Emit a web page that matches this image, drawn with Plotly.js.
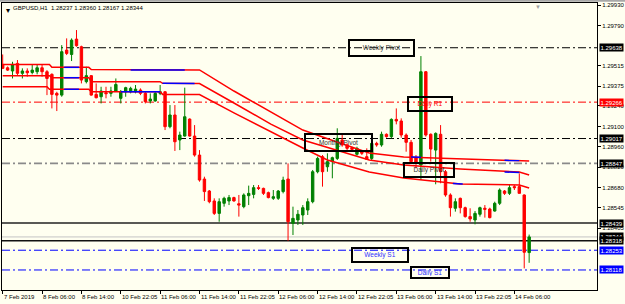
<!DOCTYPE html>
<html><head><meta charset="utf-8">
<script src="https://cdn.plot.ly/plotly-3.0.1.min.js"></script>
<style>html,body{margin:0;padding:0;background:#fffff0;}#chart{width:625px;height:304px;}</style>
</head><body><div id="chart"></div>
<script>
const symbol = 'GBPUSD', timeframe = 'H1';
const open = [1.29524,1.29501,1.29479,1.29531,1.29463,1.29479,1.29469,1.29474,1.29501,1.29474,
1.29456,1.29326,1.29314,1.29622,1.29592,1.29697,1.29645,1.29406,1.29447,1.29319,
1.29303,1.29330,1.29326,1.29342,1.29292,1.29337,1.29337,1.29337,1.29349,1.29326,
1.29274,1.29274,1.29326,1.29337,1.29098,1.29178,1.29007,1.29034,1.29150,1.29034,
1.28904,1.28740,1.28658,1.28590,1.28505,1.28574,1.28590,1.28613,1.28571,1.28551,
1.28626,1.28635,1.28681,1.28676,1.28647,1.28608,1.28608,1.28654,1.28740,1.28437,
1.28460,1.28494,1.28528,1.28585,1.28790,1.28893,1.28824,1.28859,1.28881,1.29007,
1.28973,1.28954,1.28909,1.28927,1.28893,1.28881,1.28984,1.28973,1.29046,1.29030,
1.29148,1.29137,1.29041,1.28991,1.28886,1.28836,1.29474,1.29046,1.28938,1.29046,
1.28790,1.28631,1.28540,1.28608,1.28544,1.28483,1.28460,1.28499,1.28540,1.28535,
1.28521,1.28574,1.28658,1.28642,1.28688,1.28688,1.28631,1.28237];
const high = [1.29592,1.29510,1.29542,1.29554,1.29497,1.29497,1.29520,1.29520,1.29520,1.29485,
1.29463,1.29337,1.29656,1.29702,1.29702,1.29759,1.29652,1.29508,1.29451,1.29394,
1.29371,1.29371,1.29371,1.29428,1.29349,1.29371,1.29371,1.29383,1.29360,1.29337,
1.29326,1.29337,1.29383,1.29342,1.29246,1.29246,1.29064,1.29365,1.29155,1.29109,
1.28938,1.28756,1.28665,1.28608,1.28608,1.28619,1.28631,1.28619,1.28631,1.28642,
1.28695,1.28699,1.28699,1.28681,1.28654,1.28665,1.28665,1.28756,1.28847,1.28551,
1.28528,1.28562,1.28608,1.28802,1.28893,1.28904,1.28916,1.28893,1.29087,1.29041,
1.28984,1.28961,1.28961,1.28938,1.28950,1.28995,1.28995,1.29064,1.29052,1.29155,
1.29223,1.29155,1.29052,1.29007,1.28904,1.29581,1.29479,1.29052,1.29059,1.29109,
1.28802,1.28642,1.28608,1.28613,1.28551,1.28540,1.28521,1.28551,1.28562,1.28544,
1.28585,1.28676,1.28665,1.28699,1.28699,1.28779,1.28635,1.28360];
const low = [1.29492,1.29479,1.29428,1.29451,1.29428,1.29440,1.29456,1.29456,1.29440,1.29314,
1.29223,1.29205,1.29303,1.29588,1.29547,1.29645,1.29394,1.29394,1.29310,1.29292,
1.29257,1.29292,1.29303,1.29337,1.29257,1.29303,1.29326,1.29326,1.29314,1.29257,
1.29257,1.29269,1.29314,1.29075,1.29087,1.28932,1.28938,1.29030,1.29030,1.28893,
1.28722,1.28590,1.28574,1.28494,1.28448,1.28551,1.28562,1.28585,1.28483,1.28540,
1.28562,1.28608,1.28665,1.28631,1.28608,1.28597,1.28597,1.28642,1.28318,1.28357,
1.28426,1.28426,1.28494,1.28574,1.28779,1.28688,1.28790,1.28745,1.28870,1.28961,
1.28938,1.28932,1.28900,1.28904,1.28870,1.28870,1.28961,1.28961,1.29023,1.29018,
1.29114,1.29023,1.28927,1.28847,1.28813,1.28733,1.29030,1.28859,1.28704,1.28711,
1.28619,1.28483,1.28517,1.28505,1.28476,1.28448,1.28430,1.28483,1.28476,1.28471,
1.28517,1.28562,1.28631,1.28631,1.28665,1.28642,1.28129,1.28167];
const close = [1.29497,1.29485,1.29524,1.29463,1.29479,1.29467,1.29485,1.29501,1.29474,1.29428,
1.29319,1.29314,1.29611,1.29599,1.29690,1.29652,1.29417,1.29447,1.29314,1.29296,
1.29342,1.29324,1.29342,1.29387,1.29337,1.29365,1.29360,1.29355,1.29326,1.29269,
1.29287,1.29326,1.29337,1.29098,1.29178,1.28995,1.29041,1.29166,1.29034,1.28904,
1.28733,1.28654,1.28585,1.28505,1.28585,1.28608,1.28613,1.28590,1.28562,1.28631,
1.28642,1.28681,1.28676,1.28642,1.28613,1.28619,1.28658,1.28733,1.28448,1.28471,
1.28499,1.28544,1.28585,1.28790,1.28881,1.28790,1.28859,1.28886,1.29018,1.28973,
1.28950,1.28943,1.28950,1.28916,1.28875,1.28984,1.28973,1.29046,1.29030,1.29148,
1.29137,1.29041,1.28991,1.28859,1.28854,1.29474,1.29041,1.28945,1.29052,1.28790,
1.28631,1.28544,1.28585,1.28544,1.28483,1.28467,1.28505,1.28544,1.28533,1.28476,
1.28574,1.28665,1.28642,1.28681,1.28681,1.28642,1.28239,1.28344];

// envelope lines (bar index, price) read at knots
const maTopX = [0,9.5,10,17.5,18,40,47,54.5,61,68.5,74.5,81.5,93,107];
const maTopY = [1.29523,1.29523,1.29504,1.29504,1.29489,1.29486,1.29342,1.29198,1.29075,1.28986,1.28918,1.28891,1.28877,1.28863];
const maMidX = [0,9.5,10,17.5,18,32,32.5,40,47,54.5,61,74.5,81.5,93,105,107];
const maMidY = [1.29447,1.29447,1.29433,1.29433,1.29406,1.29406,1.29395,1.29393,1.29260,1.29116,1.29007,1.28870,1.28836,1.28809,1.28788,1.28768];
const maBotX = [0,9,9.5,17.5,18,32,32.5,40,47,54.5,61,66,74.5,81.5,93,105,107];
const maBotY = [1.29371,1.29371,1.29354,1.29354,1.29337,1.29337,1.29319,1.29318,1.29192,1.29062,1.28952,1.28870,1.28788,1.28747,1.28706,1.28699,1.28679];
const blueTopX = [12.5,15.5,null,26,37,null,83,85,null,102,105];
const blueTopY = [1.29504,1.29504,null,1.29486,1.29486,null,1.28890,1.28889,null,1.28868,1.28866];
const blueMidX = [12.5,15.5,null,32.5,39,null,102,105];
const blueMidY = [1.29433,1.29433,null,1.29395,1.29393,null,1.28788,1.28785];
const blueBotX = [12.5,15.5,null,24,32,null,91.5,93.5];
const blueBotY = [1.29354,1.29354,null,1.29337,1.29337,null,1.28710,1.28706];

const xTickBars = [0,8,16,24,32,40,48,56,64,72,80,88,96,104];
const xTickText = ['7 Feb 2019','8 Feb 06:00','8 Feb 14:00','10 Feb 22:05','11 Feb 06:00','11 Feb 14:00','11 Feb 22:05','12 Feb 06:00','12 Feb 14:00','12 Feb 22:05','13 Feb 06:00','13 Feb 14:00','13 Feb 22:05','14 Feb 06:00'];
const yTicks = [1.29930,1.29790,1.29515,1.29375,1.29240,1.29100,1.28960,1.28820,1.28680,1.28545,1.28405,1.27980];

const levelPrice = [1.29638,1.29266,1.29017,1.28847,1.28439,1.28344,1.28318,1.28253,1.28118];
const levelName  = ['Weekly Pivot','Daily R1','Monthly Pivot','Daily Pivot','','','','Weekly S1','Daily S1'];

const FONT = 'Liberation Sans, Arial, sans-serif';
const FS = 6;
const bars = open.map((_, i) => i);
const last = open.length - 1;

const lineStyle = [
  {color:'#000000', width:1, dash:'8px,3px,2px,3px'},
  {color:'#ff0000', width:1, dash:'8px,3px,2px,3px'},
  {color:'#000000', width:1, dash:'8px,3px,2px,3px'},
  {color:'#8a8a8a', width:1.6, dash:'8px,3px,2px,3px'},
  {color:'#222222', width:1.6, dash:'solid'},
  {color:'#c4c4c4', width:1, dash:'solid'},
  {color:'#111111', width:1.6, dash:'solid'},
  {color:'#0000ff', width:1, dash:'8px,3px,2px,3px'},
  {color:'#0000ff', width:1, dash:'8px,3px,2px,3px'}
];
const labelBg = ['#000','#ff0000','#000','#000','#000','#000','#000','#0000ff','#0000ff'];

const shapes = levelPrice.map((p, i) => ({
  type:'line', xref:'paper', x0:0, x1:1, yref:'y', y0:p, y1:p,
  line: lineStyle[i], layer:'below'
}));
shapes.push({type:'line', xref:'paper', yref:'paper', x0:-0.01, x1:1.1, y0:1.008, y1:1.008, line:{color:'#a8a8a8', width:2}});

const annotations = [];
// bottom time labels, drawn to the right of their tick like the terminal does
xTickBars.forEach((b, i) => {
  annotations.push({xref:'x', x:b, yref:'paper', y:0, xanchor:'left', yanchor:'top', xshift:-1, yshift:-2,
    text:xTickText[i], showarrow:false, font:{family:FONT, size:FS, color:'#000'}});
});
// right-hand price labels
levelPrice.forEach((p, i) => {
  annotations.push({xref:'paper', x:1, xanchor:'left', xshift:2, yref:'y', y:p, yanchor:'middle',
    text:p.toFixed(5), showarrow:false, bgcolor:labelBg[i], borderpad:0.5,
    font:{family:FONT, size:FS, color:'#ffffff'}});
});
// boxed level names
const boxes = [
  {i:0, x:77.0, yshift:0, w:61, h:12, color:'#333333'},
  {i:1, x:86.85, yshift:-2, w:40, h:10, color:'#ff0000'},
  {i:2, x:68.25, yshift:-4, w:63, h:13, color:'#333333'},
  {i:3, x:86.65, yshift:-7, w:46, h:10, color:'#333333'},
  {i:7, x:76.7, yshift:-5, w:52, h:10, color:'#3030ff'},
  {i:8, x:86.85, yshift:-3, w:34, h:7, color:'#3030ff'}
];
boxes.forEach(b => {
  annotations.push({xref:'x', x:b.x, yref:'y', y:levelPrice[b.i], yshift:b.yshift,
    text:levelName[b.i], showarrow:false, width:b.w, height:b.h, borderpad:1,
    bordercolor:'#000', borderwidth:2, align:'center', valign:'middle',
    font:{family:FONT, size:6.5, color:b.color}});
});
// header
annotations.push({xref:'paper', yref:'paper', x:0, y:1, xanchor:'left', yanchor:'top', xshift:2, yshift:-1,
  text:'▾', showarrow:false, font:{family:FONT, size:8, color:'#000'}});
annotations.push({xref:'paper', yref:'paper', x:0, y:1, xanchor:'left', yanchor:'top', xshift:9, yshift:0,
  text: symbol + ',' + timeframe + '  ' + [open[last], high[last], low[last], close[last]].map(v => v.toFixed(5)).join(' '),
  showarrow:false, font:{family:FONT, size:FS, color:'#000'}});
annotations.push({xref:'x', yref:'paper', x:108.8, y:1, yanchor:'top', yshift:1,
  text:'▼', showarrow:false, font:{family:FONT, size:6, color:'#a0a0a0'}});

const traces = [
  {type:'candlestick', x:bars, open:open, high:high, low:low, close:close,
   increasing:{line:{color:'#008000', width:1}, fillcolor:'#008000'},
   decreasing:{line:{color:'#ff0000', width:1}, fillcolor:'#ff0000'},
   whiskerwidth:0, hoverinfo:'skip', showlegend:false},
  {type:'scatter', mode:'lines', x:maTopX, y:maTopY, line:{color:'#ff0000', width:1.5}, hoverinfo:'skip'},
  {type:'scatter', mode:'lines', x:maMidX, y:maMidY, line:{color:'#ff0000', width:1.5}, hoverinfo:'skip'},
  {type:'scatter', mode:'lines', x:maBotX, y:maBotY, line:{color:'#ff0000', width:1.5}, hoverinfo:'skip'},
  {type:'scatter', mode:'lines', x:blueTopX, y:blueTopY, line:{color:'#0000ff', width:1.5}, connectgaps:false, hoverinfo:'skip'},
  {type:'scatter', mode:'lines', x:blueMidX, y:blueMidY, line:{color:'#0000ff', width:1.5}, connectgaps:false, hoverinfo:'skip'},
  {type:'scatter', mode:'lines', x:blueBotX, y:blueBotY, line:{color:'#0000ff', width:1.5}, connectgaps:false, hoverinfo:'skip'}
];

const layout = {
  width:625, height:304,
  margin:{l:2, r:28, t:3, b:14, pad:0},
  paper_bgcolor:'#fffff0', plot_bgcolor:'#fffff0',
  showlegend:false,
  font:{family:FONT, size:FS, color:'#000'},
  xaxis:{range:[-0.14, 120.79], tickmode:'array', tickvals:xTickBars, showticklabels:false,
    ticks:'outside', ticklen:3, tickcolor:'#000', tickwidth:1,
    showgrid:false, zeroline:false, showline:true, mirror:true, linecolor:'#000', linewidth:1,
    rangeslider:{visible:false}, fixedrange:true, automargin:false},
  yaxis:{side:'right', range:[1.27981, 1.29944], tickmode:'array', tickvals:yTicks,
    ticktext:yTicks.map(v => v.toFixed(5)), ticks:'outside', ticklen:3, tickcolor:'#000',
    showgrid:false, zeroline:false, showline:true, mirror:true, linecolor:'#000', linewidth:1,
    tickfont:{family:FONT, size:FS, color:'#000'}, fixedrange:true, automargin:false},
  shapes:shapes, annotations:annotations
};
Plotly.newPlot('chart', traces, layout, {staticPlot:true, displayModeBar:false});
</script>
</body></html>
